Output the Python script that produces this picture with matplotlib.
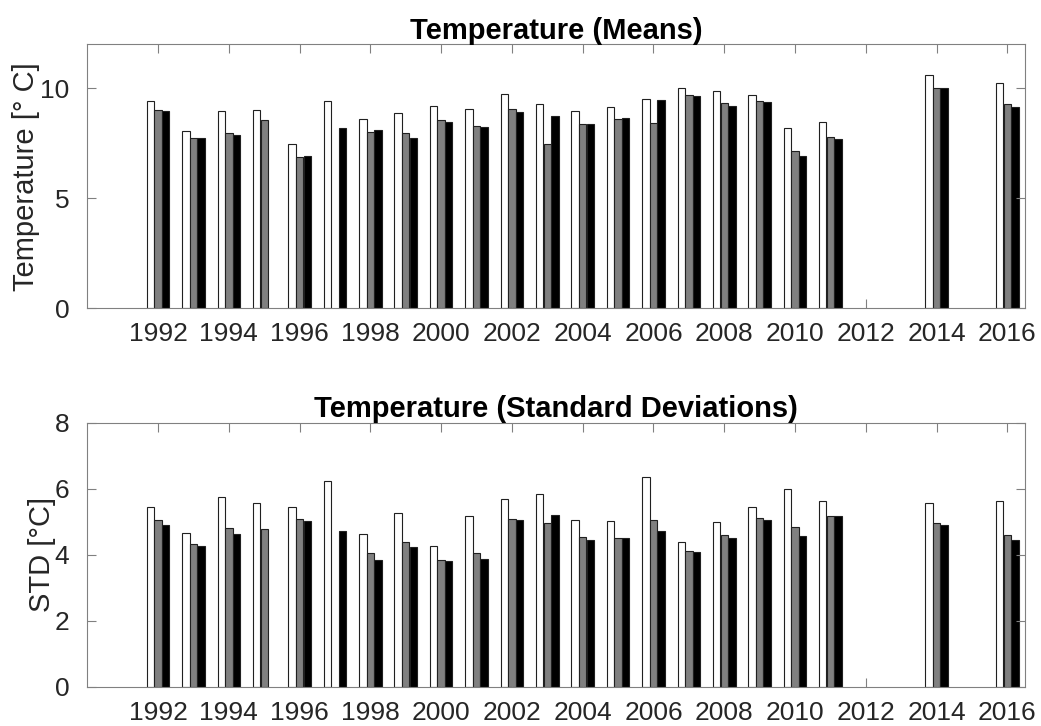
import numpy as np
import matplotlib.pyplot as plt

plt.rcParams['font.family'] = ['Liberation Sans', 'DejaVu Sans']

years = [1992, 1993, 1994, 1995, 1996, 1997, 1998, 1999, 2000, 2001, 2002,
         2003, 2004, 2005, 2006, 2007, 2008, 2009, 2010, 2011, 2014, 2016]
nan = np.nan

# yearly means, three series
mean_a = [9.42, 8.06, 8.97, 9.01, 7.45, 9.41, 8.62, 8.85, 9.21, 9.06, 9.75,
          9.27, 8.97, 9.14, 9.50, 10.00, 9.85, 9.68, 8.18, 8.48, 10.60, 10.24]
mean_b = [9.01, 7.73, 7.95, 8.53, 6.88, nan, 8.00, 7.97, 8.53, 8.29, 9.06,
          7.47, 8.38, 8.62, 8.41, 9.67, 9.32, 9.41, 7.15, 7.77, 10.01, 9.29]
mean_c = [8.94, 7.73, 7.88, nan, 6.90, 8.21, 8.12, 7.73, 8.45, 8.23, 8.90,
          8.73, 8.38, 8.66, 9.44, 9.65, 9.20, 9.38, 6.92, 7.71, 10.00, 9.14]

# yearly standard deviations, three series
std_a = [5.45, 4.66, 5.76, 5.57, 5.45, 6.24, 4.63, 5.28, 4.27, 5.16, 5.70,
         5.83, 5.05, 5.01, 6.35, 4.38, 4.99, 5.44, 5.98, 5.63, 5.57, 5.64]
std_b = [5.04, 4.32, 4.80, 4.79, 5.07, nan, 4.06, 4.38, 3.83, 4.06, 5.08,
         4.96, 4.54, 4.50, 5.06, 4.10, 4.61, 5.10, 4.83, 5.18, 4.97, 4.60]
std_c = [4.91, 4.27, 4.64, nan, 5.02, 4.73, 3.84, 4.22, 3.82, 3.87, 5.04,
         5.20, 4.45, 4.52, 4.72, 4.09, 4.50, 5.05, 4.58, 5.17, 4.90, 4.45]

colors = ['white', '#808080', 'black']
offsets = [-0.215, 0.0, 0.215]
xticks = np.arange(1992, 2017, 2)
txt = '#262626'

fig = plt.figure(figsize=(10.41, 7.26), dpi=100)
ax1 = fig.add_axes([0.0839, 0.5753, 0.9007, 0.364])
ax2 = fig.add_axes([0.0839, 0.0541, 0.9007, 0.3636])

x = np.array(years, dtype=float)


def draw(ax, series, ylim, yticks, ylabel, title, lpad):
    for vals, col, off in zip(series, colors, offsets):
        ax.bar(x + off, vals, width=0.21, color=col, edgecolor='#202020',
               linewidth=0.8)
    ax.set_xlim(1990, 2016.5)
    ax.set_ylim(*ylim)
    ax.set_xticks(xticks)
    ax.set_yticks(yticks)
    ax.tick_params(direction='in', top=True, right=True, length=6.5,
                   width=0.8, color='#808080', labelsize=19, labelcolor=txt)
    ax.tick_params(axis='y', pad=13)
    ax.tick_params(axis='x', pad=10)
    for s in ax.spines.values():
        s.set_color('#808080')
        s.set_linewidth(0.8)
    ax.set_ylabel(ylabel, fontsize=21, color=txt, labelpad=lpad)
    ax.set_title(title, fontsize=21, fontweight='bold', pad=4)


draw(ax1, [mean_a, mean_b, mean_c], (0, 12), [0, 5, 10],
     'Temperature [\u00b0 C]', 'Temperature (Means)', 0)
draw(ax2, [std_a, std_b, std_c], (0, 8), [0, 2, 4, 6, 8],
     'STD [\u00b0C]', 'Temperature (Standard Deviations)', -1)

fig.savefig('out.png', dpi=100)
